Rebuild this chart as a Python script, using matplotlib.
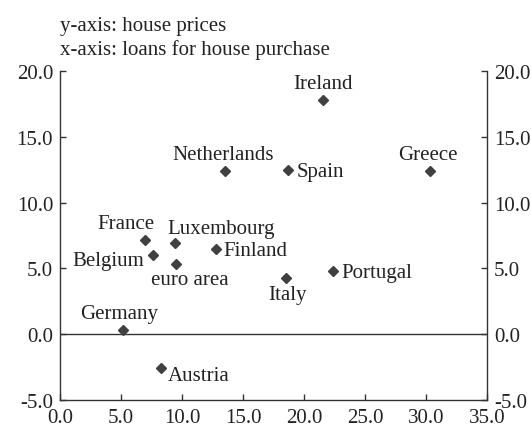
import matplotlib
matplotlib.use("Agg")
import matplotlib.pyplot as plt
from matplotlib.ticker import FormatStrFormatter

plt.rcParams['font.family'] = ['Liberation Serif', 'DejaVu Serif']

countries = ["Ireland", "Netherlands", "Spain", "Greece", "France", "Luxembourg",
             "Belgium", "euro area", "Finland", "Italy", "Portugal", "Germany", "Austria"]
loans = [21.6, 13.5, 18.7, 30.3, 7.0, 9.4, 7.6, 9.5, 12.8, 18.5, 22.4, 5.2, 8.3]
prices = [17.8, 12.4, 12.5, 12.4, 7.2, 6.9, 6.0, 5.3, 6.5, 4.3, 4.8, 0.3, -2.6]

# label placement: (dx, dy, ha, va) in points
label_pos = {
    "Ireland": (0, 5, "center", "bottom"),
    "Netherlands": (-1, 5, "center", "bottom"),
    "Spain": (6, -1, "left", "center"),
    "Greece": (-1, 5, "center", "bottom"),
    "France": (-14, 5, "center", "bottom"),
    "Luxembourg": (-5, 4, "left", "bottom"),
    "Belgium": (-6, -4, "right", "center"),
    "euro area": (10, -4, "center", "top"),
    "Finland": (5, -1, "left", "center"),
    "Italy": (1, -5, "center", "top"),
    "Portugal": (6, -1, "left", "center"),
    "Germany": (-3, 5, "center", "bottom"),
    "Austria": (5, -5, "left", "center"),
}

fig = plt.figure(figsize=(5.31, 4.27), dpi=100)
ax = fig.add_axes([0.113, 0.061, 0.804, 0.770])
ax.plot(loans, prices, linestyle="none", marker="D", markersize=5.6,
        color="#404040", zorder=3)
for c, x, y in zip(countries, loans, prices):
    dx, dy, ha, va = label_pos[c]
    ax.annotate(c, (x, y), xytext=(dx, dy), textcoords="offset points",
                ha=ha, va=va, fontsize=15, color="#222222")

ax.axhline(0, color="#333333", linewidth=1.0, zorder=1)
ax.set_xlim(0, 35)
ax.set_ylim(-5, 20)
ax.set_xticks([0, 5, 10, 15, 20, 25, 30, 35])
ax.set_yticks([-5, 0, 5, 10, 15, 20])
ax.xaxis.set_major_formatter(FormatStrFormatter("%.1f"))
ax.yaxis.set_major_formatter(FormatStrFormatter("%.1f"))
ax.spines["top"].set_visible(False)
for s in ["left", "right", "bottom"]:
    ax.spines[s].set_color("#333333")
    ax.spines[s].set_linewidth(1.0)
ax.tick_params(axis="both", direction="in", length=4, width=1.0,
               color="#333333", labelsize=15, labelcolor="#222222", pad=6)
ax.tick_params(axis="y", right=True, labelright=True)
ax.tick_params(axis="y", which="both", pad=5)

fig.text(0.113, 1 - 26 / 427, "y-axis: house prices", fontsize=15,
         va="center", ha="left", color="#222222")
fig.text(0.113, 1 - 50 / 427, "x-axis: loans for house purchase", fontsize=15,
         va="center", ha="left", color="#222222")

fig.savefig("out.png", dpi=100)
